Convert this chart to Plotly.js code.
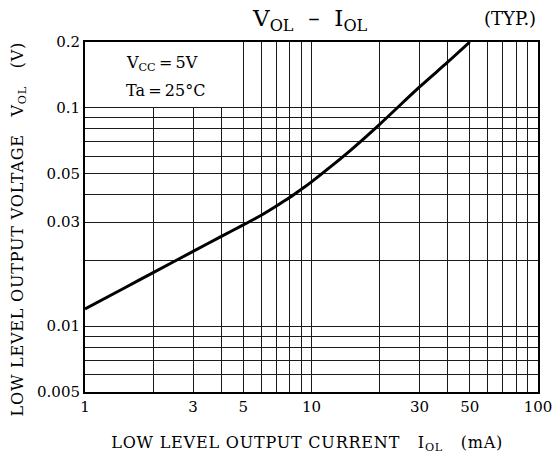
<!DOCTYPE html>
<html>
<head>
<meta charset="utf-8">
<script src="https://cdn.plot.ly/plotly-3.0.1.min.js"></script>
<style>
html, body { margin: 0; padding: 0; background: #fff; }
#chart { width: 555px; height: 459px; }
.annotation-text.wide { letter-spacing: 0.9px; }
</style>
</head>
<body>
<div id="chart"></div>
<script>
// Curve: I_OL (mA) vs V_OL (V)
const currentMA = [1, 1.5, 2, 3, 4, 5, 6, 7, 8, 9, 10, 12, 15, 20, 30, 40, 50];
const voltageV  = [0.012, 0.0150, 0.0176, 0.0220, 0.0258, 0.0291, 0.0322, 0.0355, 0.0388, 0.0423, 0.0458, 0.0532, 0.0644, 0.084, 0.1245, 0.162, 0.2];

// Tick labels and grid positions
const xLabeled  = [1, 3, 5, 10, 30, 50, 100];
const xMinor    = [2, 4, 6, 7, 8, 9, 20, 40, 60, 70, 80, 90];
const yLabeled  = [0.005, 0.01, 0.03, 0.05, 0.1, 0.2];
const yMinor    = [0.006, 0.007, 0.008, 0.009, 0.02, 0.04, 0.06, 0.07, 0.08, 0.09];

const serif = '"DejaVu Serif", "Liberation Serif", serif';

const trace = {
  x: currentMA, y: voltageV,
  type: 'scatter', mode: 'lines',
  line: { color: '#000', width: 3, shape: 'spline', smoothing: 0.8 },
  hoverinfo: 'skip'
};

const gridCol = '#1a1a1a';

const layout = {
  width: 555, height: 459,
  margin: { l: 85, r: 17, t: 42, b: 67 },
  paper_bgcolor: '#fff', plot_bgcolor: '#fff',
  showlegend: false,
  font: { family: serif, color: '#000', size: 14 },
  title: {
    text: 'V<sub>OL</sub>  \u2013  I<sub>OL</sub>',
    x: 0.497, xref: 'paper', xanchor: 'center',
    y: 1 - 18 / 459, yref: 'container', yanchor: 'middle',
    font: { family: serif, size: 23, color: '#000' }
  },
  xaxis: {
    type: 'log', range: [0, 2],
    tickmode: 'array', tickvals: xLabeled, ticktext: xLabeled.map(String),
    ticks: '', showgrid: true, gridcolor: gridCol, gridwidth: 1,
    minor: { tickmode: 'array', tickvals: xMinor, showgrid: true, gridcolor: gridCol, gridwidth: 1, ticks: '' },
    showline: true, linecolor: '#000', linewidth: 2, mirror: true,
    zeroline: false,
    tickfont: { family: serif, size: 15, color: '#000' }
  },
  yaxis: {
    type: 'log', range: [Math.log10(0.005), Math.log10(0.2)],
    tickmode: 'array', tickvals: yLabeled, ticktext: yLabeled.map(String),
    ticks: '', showgrid: true, gridcolor: gridCol, gridwidth: 1,
    minor: { tickmode: 'array', tickvals: yMinor, showgrid: true, gridcolor: gridCol, gridwidth: 1, ticks: '' },
    showline: true, linecolor: '#000', linewidth: 2, mirror: true,
    zeroline: false,
    tickfont: { family: serif, size: 15, color: '#000' }
  },
  shapes: [
    { type: 'rect', xref: 'x', yref: 'y', x0: 1, x1: 4.97, y0: 0.1008, y1: 0.2,
      fillcolor: '#fff', line: { width: 0 }, layer: 'above' }
  ],
  annotations: [
    { text: '(TYP.)', xref: 'paper', yref: 'paper', x: 0.938, y: 1 + 24 / 350,
      xanchor: 'center', yanchor: 'middle', showarrow: false,
      font: { family: serif, size: 18, color: '#000' } },
    { text: 'V<sub>CC</sub>\u2009=\u20095V', xref: 'paper', yref: 'paper', x: 0.086, y: 1 - 21 / 350,
      xanchor: 'left', yanchor: 'middle', showarrow: false,
      font: { family: serif, size: 16, color: '#000' } },
    { text: 'Ta\u2009=\u200925\u00B0C', xref: 'paper', yref: 'paper', x: 0.086, y: 1 - 48 / 350,
      xanchor: 'left', yanchor: 'middle', showarrow: false,
      font: { family: serif, size: 16, color: '#000' } },
    { text: 'LOW LEVEL OUTPUT CURRENT\u00A0\u00A0\u00A0I<sub>OL</sub>\u00A0\u00A0\u00A0(mA)',
      xref: 'paper', yref: 'paper', x: 0.491, y: -51 / 350,
      xanchor: 'center', yanchor: 'middle', showarrow: false,
      font: { family: serif, size: 16, color: '#000' } },
    { text: 'LOW LEVEL OUTPUT VOLTAGE\u00A0\u00A0\u00A0V<sub>OL</sub>\u00A0\u00A0\u00A0(V)',
      xref: 'paper', yref: 'paper', x: -67 / 453, y: (392 - 229) / 350,
      xanchor: 'center', yanchor: 'middle', textangle: -90, showarrow: false,
      font: { family: serif, size: 16, color: '#000' } }
  ]
};

Plotly.newPlot('chart', [trace], layout, { displayModeBar: false, staticPlot: true }).then(function (gd) {
  // widen letter spacing of the two axis titles slightly, like the reference lettering
  const texts = gd.querySelectorAll('.annotation-text');
  texts.forEach(function (t) {
    if (t.textContent.indexOf('LOW LEVEL') === 0) t.setAttribute('letter-spacing', '0.8');
  });
});
</script>
</body>
</html>
